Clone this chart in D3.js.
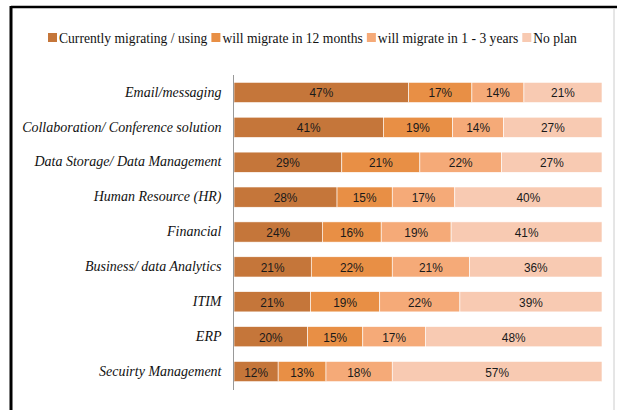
<!DOCTYPE html>
<html>
<head>
<meta charset="utf-8">
<script src="https://cdn.jsdelivr.net/npm/d3@7"></script>
<style>
  body { margin: 0; background: #fff; }
  svg { display: block; }
</style>
</head>
<body>
<svg></svg>
<script>
const categories = [
	"Email/messaging",
	"Collaboration/ Conference solution",
	"Data Storage/ Data Management",
	"Human Resource (HR)",
	"Financial",
	"Business/ data Analytics",
	"ITIM",
	"ERP",
	"Secuirty Management",
];
const seriesNames = [
	"Currently migrating / using",
	"will migrate in 12 months",
	"will migrate in 1 - 3 years",
	"No plan",
];
const currentlyUsing = [47, 41, 29, 28, 24, 21, 21, 20, 12];
const in12Months = [17, 19, 21, 15, 16, 22, 19, 15, 13];
const in1to3Years = [14, 14, 22, 17, 19, 21, 22, 17, 18];
const noPlan = [21, 27, 27, 40, 41, 36, 39, 48, 57];
const colors = ["#c5763a", "#e88f45", "#f5aa78", "#f8cab2"];

const W = 617, H = 410;
const svg = d3.select("svg").attr("width", W).attr("height", H);

// frame
svg.append("line").attr("x1", 11).attr("x2", W).attr("y1", 7).attr("y2", 7)
	.attr("stroke", "#000").attr("stroke-width", 2.5);
svg.append("line").attr("x1", 11).attr("x2", 11).attr("y1", 6).attr("y2", H)
	.attr("stroke", "#000").attr("stroke-width", 3);
svg.append("line").attr("x1", 614).attr("x2", 614).attr("y1", 8).attr("y2", H)
	.attr("stroke", "#ccc").attr("stroke-width", 1);

const series = [currentlyUsing, in12Months, in1to3Years, noPlan];
const rows = categories.map((name, i) => {
	const vals = series.map((s) => s[i]);
	const total = d3.sum(vals);
	let acc = 0;
	return {
		name,
		segs: vals.map((v, k) => {
			const seg = { k, v, x0: acc / total, x1: (acc + v) / total };
			acc += v;
			return seg;
		}),
	};
});

const x = d3.scaleLinear().domain([0, 1]).range([234, 602]);
const y = d3.scaleBand().domain(categories).range([75, 389]).paddingInner(0.42).paddingOuter(0.21);

const rowG = svg.append("g").selectAll("g").data(rows).join("g")
	.attr("transform", (d) => `translate(0,${y(d.name)})`);

rowG.selectAll("rect").data((d) => d.segs).join("rect")
	.attr("x", (d) => x(d.x0))
	.attr("width", (d) => x(d.x1) - x(d.x0))
	.attr("height", y.bandwidth())
	.attr("fill", (d) => colors[d.k])
	.attr("stroke", "#fff")
	.attr("stroke-width", 0.6);

// percent labels, squeezed a bit to look like a narrow font
rowG.selectAll("text").data((d) => d.segs).join("text")
	.attr("transform", (d) => `translate(${(x(d.x0) + x(d.x1)) / 2},${y.bandwidth() / 2 + 5}) scale(0.88,1)`)
	.attr("text-anchor", "middle")
	.attr("font-family", "'Liberation Sans', sans-serif")
	.attr("font-size", 13.5)
	.attr("fill", "#1a1a1a")
	.text((d) => d.v + "%");

const yAxis = d3.axisLeft(y).tickSize(0).tickPadding(12);
const ax = svg.append("g").attr("transform", "translate(233.5,0)").call(yAxis);
ax.select(".domain").attr("stroke", "#999").attr("d", "M0,75V390");
ax.selectAll("text")
	.attr("font-family", "'Liberation Serif', serif")
	.attr("font-style", "italic")
	.attr("font-size", 14)
	.attr("fill", "#111")
	.attr("dy", "0.3em");

// legend
const legend = svg.append("g").attr("font-family", "'Liberation Serif', serif").attr("font-size", 13.6);
let lx = 48;
seriesNames.forEach((n, i) => {
	legend.append("rect").attr("x", lx).attr("y", 33).attr("width", 9).attr("height", 9).attr("fill", colors[i]);
	const t = legend.append("text").attr("x", lx + 11).attr("y", 42.5).attr("fill", "#111").text(n);
	lx += 11 + t.node().getComputedTextLength() + 4;
});
</script>
</body>
</html>
